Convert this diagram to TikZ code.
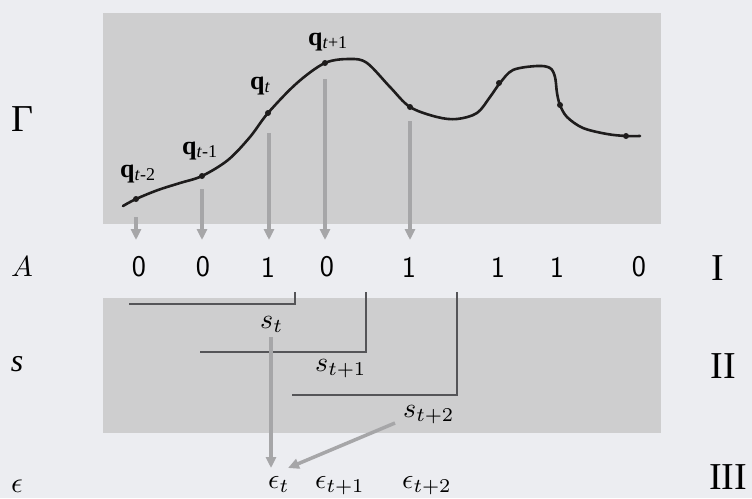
\documentclass[tikz,border=0pt]{standalone}
\usepackage{graphicx}
\usepackage[no-math]{fontspec}
\setmainfont{Liberation Serif}
\usetikzlibrary{arrows.meta}
\definecolor{bgc}{RGB}{236,237,241}
\definecolor{boxc}{RGB}{206,206,207}
\definecolor{arrc}{RGB}{166,166,168}
\definecolor{brc}{RGB}{85,85,88}
\definecolor{crv}{RGB}{30,28,28}
\newcommand{\qlab}[1]{\fontsize{26}{28}\selectfont\textbf{q}\raisebox{-3pt}{\fontsize{18}{19}\selectfont #1}}
\newcommand{\mymathlab}[2]{\scalebox{#1}{$#2$}}
\begin{document}
\begin{tikzpicture}[x=1pt,y=-1pt,
  gbox/.style={fill=boxc,draw=none},
  garrow/.style={draw=arrc,line width=3.5pt,-{Triangle[length=11pt,width=10pt]}},
  brk/.style={draw=brc,line width=1.1pt},
  dotnode/.style={circle,fill=crv,inner sep=0pt,minimum size=6pt},
  lab/.style={inner sep=0pt},
  digit/.style={inner sep=0pt,font=\sffamily\fontsize{30}{32}\selectfont},
  roman/.style={inner sep=0pt,font=\fontsize{38}{40}\selectfont},
  mlab/.style={inner sep=0pt,anchor=base west}]
\useasboundingbox[fill=bgc] (0,0) rectangle (752,498);
% boxes
\fill[gbox] (103,13) rectangle (661,224);
\fill[gbox] (103,298) rectangle (661,433);
% curve
\draw[crv,line width=2.6pt,line cap=round] plot[smooth,tension=0.55] coordinates {
 (123,206) (136,199) (158,190) (180,183) (202,176) (228,160) (250,137) (268,113)
 (297,83) (325,63) (350,59) (367,63) (390,87) (410,107) (437,117) (457,119)
 (477,113) (490,97) (500,83) (513,70) (537,66) (550,68) (555,77) (557,93)
 (560,105) (567,117) (583,128) (607,134) (626,136) (640,136)};
\node[dotnode] (d1) at (136,199) {};
\node[dotnode] (d2) at (202,176) {};
\node[dotnode] (d3) at (268,113) {};
\node[dotnode] (d4) at (325,63) {};
\node[dotnode] (d5) at (410,107) {};
\node[dotnode] (d6) at (499,83) {};
\node[dotnode] (d7) at (560,105) {};
\node[dotnode] (d8) at (626,136) {};
% q labels
\node[lab,anchor=base west] (q1) at (120,177) {\qlab{\textit{t}-2}};
\node[lab,anchor=base west] (q2) at (182,154) {\qlab{\textit{t}-1}};
\node[lab,anchor=base west] (q3) at (250,89) {\qlab{\textit{t}}};
\node[lab,anchor=base west] (q4) at (308,45) {\qlab{\textit{t}+1}};
% left labels
\node[lab,font=\fontsize{38}{40}\selectfont] (gam) at (22,119) {Γ};
\node[lab] (Alab) at (22,267) {\mymathlab{2.9}{A}};
\node[lab,font=\fontsize{32}{34}\selectfont] (slab) at (17,364) {\textit{s}};
\node[lab] (elab) at (17,486) {\mymathlab{2.9}{\epsilon}};
% digits
\node[digit] (n1) at (139,267) {0};
\node[digit] (n2) at (203,267) {0};
\node[digit] (n3) at (268,267) {1};
\node[digit] (n4) at (327,267) {0};
\node[digit] (n5) at (409,267) {1};
\node[digit] (n6) at (498,267) {1};
\node[digit] (n7) at (557,267) {1};
\node[digit] (n8) at (639,267) {0};
% roman numerals
\node[roman] (r1) at (718,268) {I};
\node[roman] (r2) at (723,366) {II};
\node[roman] (r3) at (728,477) {III};
% top arrows
\coordinate (a1s) at (136,217); \coordinate (a1e) at (136,240);
\coordinate (a2s) at (202,189); \coordinate (a2e) at (202,240);
\coordinate (a3s) at (269,133); \coordinate (a3e) at (269,240);
\coordinate (a4s) at (325,79);  \coordinate (a4e) at (325,240);
\coordinate (a5s) at (410,121); \coordinate (a5e) at (410,240);
\foreach \i in {1,...,5} {\draw[garrow] (a\i s) -- (a\i e);}
% brackets
\coordinate (b1a) at (129,304); \coordinate (b1b) at (295,304); \coordinate (b1c) at (295,292);
\coordinate (b2a) at (200,352); \coordinate (b2b) at (366,352); \coordinate (b2c) at (366,292);
\coordinate (b3a) at (292,395); \coordinate (b3b) at (457,395); \coordinate (b3c) at (457,292);
\draw[brk] (b1a) -- (b1b) -- (b1c);
\draw[brk] (b2a) -- (b2b) -- (b2c);
\draw[brk] (b3a) -- (b3b) -- (b3c);
% s labels
\node[mlab] (st) at (260,328) {\mymathlab{2.8}{s_t}};
\node[mlab] (st1) at (315,371) {\mymathlab{2.8}{s_{t+1}}};
\node[mlab] (st2) at (403,417) {\mymathlab{2.8}{s_{t+2}}};
% epsilon labels
\node[mlab] (et) at (268,488) {\mymathlab{2.8}{\epsilon_t}};
\node[mlab] (et1) at (315,488) {\mymathlab{2.8}{\epsilon_{t+1}}};
\node[mlab] (et2) at (402,488) {\mymathlab{2.8}{\epsilon_{t+2}}};
% lower arrows
\coordinate (ea) at (271,337); \coordinate (eb) at (271,468);
\coordinate (fa) at (395,423); \coordinate (fb) at (288,468);
\draw[garrow] (ea) -- (eb);
\draw[garrow] (fa) -- (fb);
\end{tikzpicture}
\end{document}
